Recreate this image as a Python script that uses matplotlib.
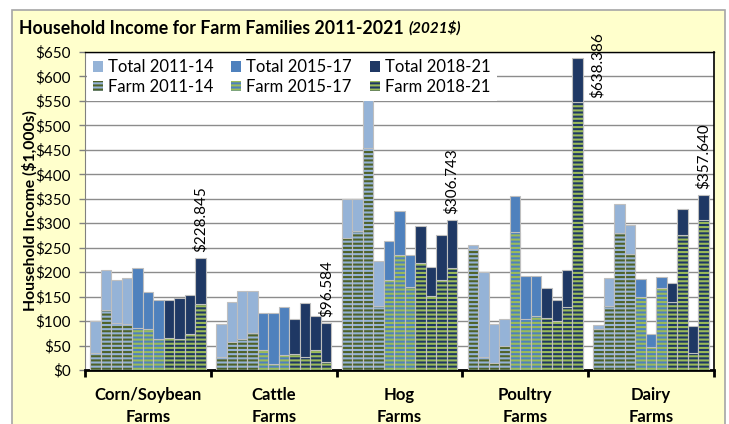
import numpy as np
import matplotlib.pyplot as plt
from matplotlib.patches import Patch, Rectangle

plt.rcParams['font.family'] = ['Lato', 'DejaVu Sans']
plt.rcParams['hatch.linewidth'] = 1.5

groups = ["Corn/Soybean\nFarms", "Cattle\nFarms", "Hog\nFarms",
          "Poultry\nFarms", "Dairy\nFarms"]
years = [2011, 2012, 2013, 2014, 2015, 2016, 2017, 2018, 2019, 2020, 2021]

# total household income, $1,000s (2021$)
total_corn = [100, 204, 184, 189, 209, 159, 143, 143, 147, 154, 228.845]
total_cattle = [94, 138, 162, 162, 117, 117, 129, 104, 137, 110, 96.584]
total_hog = [349, 350, 552, 223, 264, 324, 235, 294, 211, 276, 306.743]
total_poultry = [255, 200, 95, 104, 355, 192, 193, 167, 143, 204, 638.386]
total_dairy = [92, 189, 339, 296, 185, 73, 191, 177, 330, 90, 357.640]

# income from farming
farm_corn = [34, 122, 97, 95, 86, 84, 63, 66, 63, 73, 134]
farm_cattle = [27, 58, 63, 75, 41, 12, 31, 33, 27, 41, 17]
farm_hog = [270, 285, 453, 131, 184, 235, 169, 219, 152, 184, 208]
farm_poultry = [247, 26, 14, 50, 283, 104, 110, 106, 100, 129, 548]
farm_dairy = [83, 131, 281, 238, 150, 48, 167, 140, 276, 35, 307]

totals = [total_corn, total_cattle, total_hog, total_poultry, total_dairy]
farms = [farm_corn, farm_cattle, farm_hog, farm_poultry, farm_dairy]

periods = [("2011-14", 2011, 2014), ("2015-17", 2015, 2017), ("2018-21", 2018, 2021)]
total_colors = ["#95B3D7", "#4F81BD", "#1F3864"]
stripe_colors = ["#4F6228", "#9BBB59", "#9BBB59"]

fig = plt.figure(figsize=(7.29, 4.24), dpi=100)
fig.patch.set_facecolor("white")
fig.patches.append(Rectangle((12 / 729, -0.05), (725 - 12) / 729, 1.05 - 10 / 424,
                             transform=fig.transFigure, facecolor="#FFFFCC",
                             edgecolor="#A6A6A6", linewidth=1.2, zorder=-5))

ax = fig.add_axes([85 / 729, 1 - 370 / 424, (714 - 85) / 729, (370 - 52) / 424])
ax.set_facecolor("white")
ax.set_zorder(2)

gw = 12  # slots per group
handles_t, handles_f = [], []
for p, (lab, y0, y1) in enumerate(periods):
    xs, tv, fv = [], [], []
    for g in range(len(groups)):
        for i, yr in enumerate(years):
            if y0 <= yr <= y1:
                xs.append(g * gw + 1 + i)
                tv.append(totals[g][i])
                fv.append(farms[g][i])
    ax.bar(xs, tv, width=1, color=total_colors[p], edgecolor="#BFBFBF",
           linewidth=0.8, zorder=2)
    ax.bar(xs, fv, width=1, color=total_colors[p], edgecolor=stripe_colors[p],
           hatch="----", linewidth=0, zorder=3)
    ax.bar(xs, fv, width=1, fill=False, edgecolor="#BFBFBF", linewidth=0.8, zorder=4)
    handles_t.append(Patch(facecolor=total_colors[p], edgecolor="none", label="Total " + lab))
    handles_f.append(Patch(facecolor=total_colors[p], edgecolor=stripe_colors[p],
                           hatch="----", linewidth=0, label="Farm " + lab))

# 2021 value labels
for g in range(len(groups)):
    v = totals[g][-1]
    x = g * gw + 11
    if v > 600:
        ax.annotate(f"${v:.3f}", (x, v), xytext=(14, -29), textcoords="offset points",
                    rotation=90, ha="center", va="bottom", fontsize=11,
                    annotation_clip=False, zorder=6)
    else:
        ax.annotate(f"${v:.3f}", (x, v), xytext=(0, 4), textcoords="offset points",
                    rotation=90, ha="center", va="bottom", fontsize=11, zorder=6)

ax.set_xlim(0, gw * len(groups))
ax.set_ylim(0, 650)
ax.set_yticks(np.arange(0, 651, 50))
ax.set_yticklabels([f"${t}" for t in range(0, 651, 50)], fontsize=11)
ax.yaxis.grid(True, color="#8C8C8C", linewidth=1.0, zorder=0)
ax.set_axisbelow(True)
ax.tick_params(axis="y", length=4, width=1, color="#808080", pad=6)

ax.set_xticks(np.arange(0, gw * len(groups) + 1, gw))
ax.set_xticklabels([])
ax.tick_params(axis="x", length=5, width=2, color="black")
ax.set_xticks([g * gw + gw / 2 for g in range(len(groups))], minor=True)
ax.set_xticklabels(groups, minor=True, fontsize=12, fontweight="bold", linespacing=1.45)
ax.tick_params(axis="x", which="minor", length=0, pad=12.5)

ax.spines["bottom"].set_linewidth(2)
ax.spines["left"].set_color("#808080")
ax.spines["top"].set_linewidth(1)
ax.spines["right"].set_linewidth(1.2)

hs = []
for ht, hf in zip(handles_t, handles_f):
    hs += [ht, hf]
leg = ax.legend(handles=hs, ncol=3, loc="upper left", bbox_to_anchor=(0, 1),
                fontsize=12, frameon=True, fancybox=False, framealpha=1,
                facecolor="white", edgecolor="none", handlelength=0.6,
                handleheight=0.6, handletextpad=0.3, columnspacing=1.1,
                labelspacing=0.2, borderpad=0.35, borderaxespad=0.1)
leg.set_zorder(5)

fig.text(30 / 729, 1 - 211 / 424, "Household Income ($1,000s)", rotation=90,
         ha="center", va="center", fontsize=11.3, fontweight="bold")
t = fig.text(19 / 729, 1 - 28 / 424, "Household Income for Farm Families 2011-2021",
             ha="left", va="center", fontsize=12.8, fontweight="bold")
fig.canvas.draw()
bb = t.get_window_extent()
fig.text((bb.x1 + 5) / 729, 1 - 28 / 424, "(2021$)", ha="left", va="center",
         fontsize=11, fontweight="bold", fontstyle="italic")

fig.savefig("out.png", dpi=100)
